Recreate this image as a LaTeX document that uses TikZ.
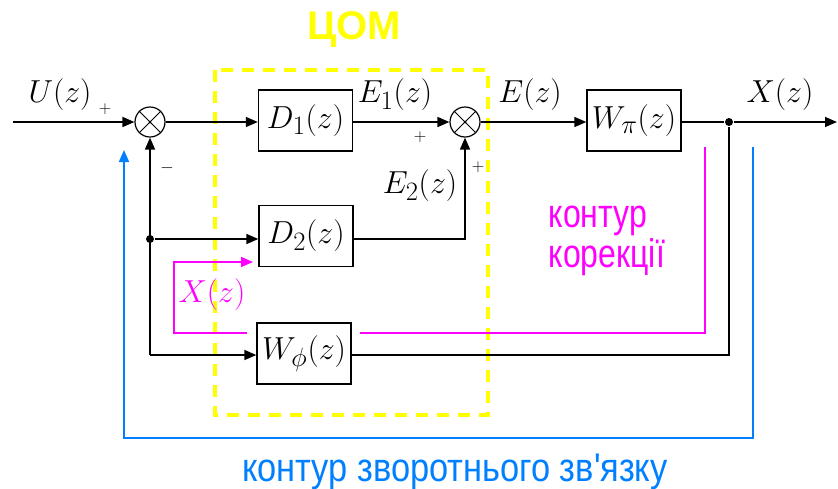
\documentclass[tikz,border=0pt]{standalone}
\usepackage{fontspec}
\newfontfamily\sansfnt{Liberation Sans}
\usetikzlibrary{arrows.meta}
\definecolor{cyellow}{RGB}{255,255,0}
\definecolor{cmag}{RGB}{255,0,255}
\definecolor{cblue}{RGB}{0,128,255}
\newcommand{\mth}[1]{\scalebox{1.28}{\fontsize{24.88}{30}\selectfont$#1$}}
\begin{document}
\begin{tikzpicture}[x=1pt,y=-1pt,line width=1.6pt,
  tip/.style={-{Triangle[length=12pt,width=10pt]}},
  blk/.style={draw,line width=1.4pt,minimum width=94pt,minimum height=61pt,inner sep=0pt},
  sum/.style={draw,circle,line width=1.2pt,minimum size=30pt,inner sep=0pt},
  dot/.style={circle,fill=black,minimum size=8pt,inner sep=0pt},
  mlab/.style={inner sep=0pt},
  sgn/.style={font=\fontsize{18}{20}\selectfont\bfseries,inner sep=0pt},
  cyr/.style={font=\sansfnt\fontsize{40}{44}\selectfont,inner sep=0pt}]
\useasboundingbox (0,0) rectangle (838,488);
% yellow dashed frame
\draw[cyellow,line width=4pt,dash pattern=on 12pt off 9pt] (215,70) rectangle (488,415);
\node[font=\sansfnt\bfseries\fontsize{40}{44}\selectfont,text=cyellow,inner sep=0pt] (com) at (354,30) {ЦОМ};
% blocks
\node[blk] (D1) at (305.5,120.5) {\mth{D_1(z)}};
\node[blk] (Wp) at (634,120.5) {\mth{W_{\pi}(z)}};
\node[blk] (D2) at (306,236) {\mth{D_2(z)}};
\node[blk] (Wf) at (304,353.5) {\mth{W_{\phi}(z)}};
\node[sum] (s1) at (150,122) {};
\node[sum] (s2) at (465,122) {};
\foreach \s in {s1,s2}{
  \draw[line width=0.9pt] (\s.north east) -- (\s.south west) (\s.north west) -- (\s.south east);
  \fill (\s.center) circle (1.5pt);}
\coordinate (in) at (13,122);
\coordinate (out) at (837,122);
\node[dot] (J) at (729,122) {};
\node[dot] (J2) at (150,239) {};
\coordinate (c1) at (150,355);
\coordinate (c2) at (729,355);
% main path
\draw[tip] (in) -- (s1.west);
\draw[tip] (s1.east) -- (D1.west |- s1);
\draw[tip] (D1.east |- s2) -- (s2.west);
\draw[tip] (s2.east) -- (Wp.west |- s2);
\draw (Wp.east |- J) -- (J);
\draw[tip] (J) -- (out);
% feedback
\draw (J) -- (c2) -- (Wf.east |- c2);
\draw[tip] (c1) -- (s1.south);
\draw[tip] (J2) -- (J2 -| D2.west);
\draw[tip] (c1) -- (c1 -| Wf.west);
\draw[tip] (D2.east |- J2) -| (s2.south);
% magenta correction loop
\coordinate (m1) at (705,147);
\coordinate (m2) at (705,333);
\coordinate (m3) at (360,333);
\coordinate (m4) at (247,333);
\coordinate (m5) at (174,333);
\coordinate (m6) at (174,262);
\coordinate (m7) at (253,262);
\draw[cmag,line width=1.6pt] (m1) -- (m2) -- (m3);
\draw[cmag,line width=1.6pt,tip] (m4) -- (m5) -- (m6) -- (m7);
% blue feedback loop
\coordinate (b1) at (753,147);
\coordinate (b2) at (753,438);
\coordinate (b3) at (124,438);
\coordinate (b4) at (124,150);
\draw[cblue,line width=1.8pt,tip] (b1) -- (b2) -- (b3) -- (b4);
% labels
\node[mlab] (lU) at (60,95) {\mth{U(z)}};
\node[mlab] (lE1) at (395,95) {\mth{E_1(z)}};
\node[mlab] (lE) at (530,95) {\mth{E(z)}};
\node[mlab] (lX) at (780,95) {\mth{X(z)}};
\node[mlab] (lE2) at (420,186) {\mth{E_2(z)}};
\node[mlab,text=cmag] (lXm) at (212,295) {\color{cmag}\mth{X(z)}};
\node[sgn] (p1) at (105,109) {$+$};
\node[sgn] (p2) at (420,137) {$+$};
\node[sgn] (p3) at (478,167) {$+$};
\node[sgn] (n1) at (167,168) {$-$};
\node[cyr,text=cmag,anchor=base west] (k1) at (548,227) {\scalebox{0.8}[1]{контур}};
\node[cyr,text=cmag,anchor=base west] (k2) at (548,267) {\scalebox{0.8}[1]{корекції}};
\node[cyr,text=cblue,anchor=base] (k3) at (455,481) {\scalebox{0.86}[1]{контур зворотнього зв\textquotesingle язку}};
\end{tikzpicture}
\end{document}
